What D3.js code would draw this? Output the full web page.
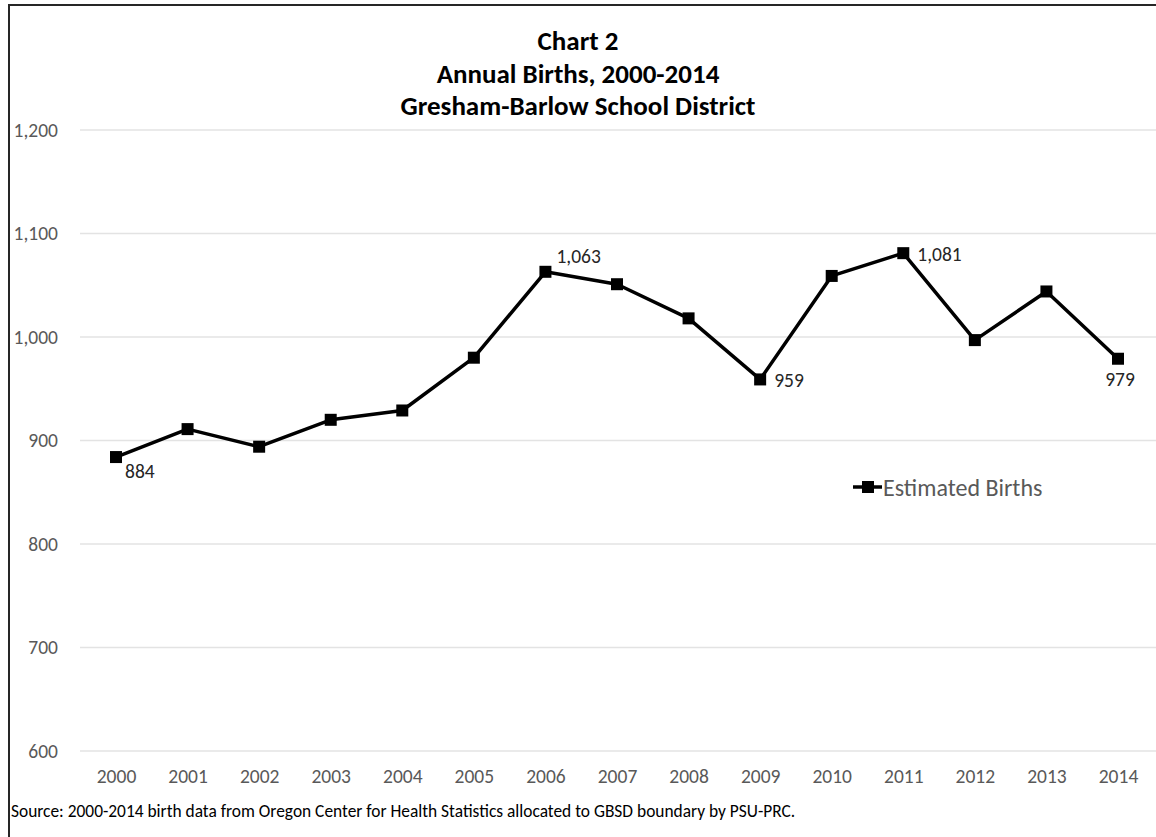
<!DOCTYPE html>
<html>
<head>
<meta charset="utf-8">
<script src="https://cdn.jsdelivr.net/npm/d3@7"></script>
<style>
  html, body { margin: 0; padding: 0; background: #fff; }
  svg { display: block; font-family: Carlito, Calibri, Lato, sans-serif; }
</style>
</head>
<body>
<div id="chart"></div>
<script>
// chart values
const years = ["2000", "2001", "2002", "2003", "2004", "2005", "2006", "2007",
               "2008", "2009", "2010", "2011", "2012", "2013", "2014"];
const births = [884, 911, 894, 920, 929, 980, 1063, 1051, 1018, 959, 1059, 1081, 997, 1044, 979];
const yTicks = [600, 700, 800, 900, 1000, 1100, 1200];
const titleLines = ["Chart 2", "Annual Births, 2000-2014", "Gresham-Barlow School District"];
const seriesName = "Estimated Births";
const sourceNote = "Source:  2000-2014 birth data from Oregon Center for Health Statistics allocated to GBSD boundary by PSU-PRC.";
// years that carry a value label, and where the label goes
const labelled = { "2000": "below-right", "2006": "above-right", "2009": "right", "2011": "right", "2014": "below" };

const W = 1156, H = 837;
const svg = d3.select("#chart").append("svg")
    .attr("width", W)
    .attr("height", H);

// Frame: only the top and left edges show in the picture
svg.append("path")
    .attr("d", `M9,${H} L9,5 L${W},5`)
    .attr("fill", "none")
    .attr("stroke", "#262626")
    .attr("stroke-width", 2);

const plotLeft = 80, plotRight = W;

const x = d3.scalePoint()
    .domain(years)
    .range([116, 1118]);

const y = d3.scaleLinear()
    .domain([600, 1200])
    .range([751, 130]);

// Gridlines
svg.append("g")
    .selectAll("line")
    .data(yTicks)
    .join("line")
    .attr("x1", plotLeft)
    .attr("x2", plotRight)
    .attr("y1", d => y(d))
    .attr("y2", d => y(d))
    .attr("stroke", "#e3e3e3")
    .attr("stroke-width", 1.5);

// Y axis labels (no axis line)
const yAxis = svg.append("g")
    .attr("transform", "translate(58,0)")
    .call(d3.axisLeft(y).tickValues(yTicks).tickFormat(d3.format(",")).tickSize(0).tickPadding(0));
yAxis.select(".domain").remove();
yAxis.selectAll("text")
    .attr("font-family", "Carlito, Calibri, Lato, sans-serif")
    .attr("font-size", "19.5px")
    .attr("fill", "#595959");

// X axis labels
const xAxis = svg.append("g")
    .attr("transform", "translate(0,769)")
    .call(d3.axisBottom(x).tickSize(0).tickPadding(0));
xAxis.select(".domain").remove();
xAxis.selectAll("text")
    .attr("font-family", "Carlito, Calibri, Lato, sans-serif")
    .attr("font-size", "19.5px")
    .attr("fill", "#595959");

// Title
svg.append("g")
    .selectAll("text")
    .data(titleLines)
    .join("text")
    .attr("x", 578)
    .attr("y", (d, i) => 50 + i * 32.5)
    .attr("text-anchor", "middle")
    .attr("font-weight", "bold")
    .attr("font-size", "27px")
    .attr("fill", "#000")
    .text(d => d);

// Series line
const line = d3.line()
    .x((d, i) => x(years[i]))
    .y(d => y(d));

svg.append("path")
    .datum(births)
    .attr("fill", "none")
    .attr("stroke", "#000")
    .attr("stroke-width", 3.5)
    .attr("stroke-linejoin", "round")
    .attr("d", line);

// Square markers
const m = 12;
svg.append("g")
    .selectAll("rect")
    .data(births)
    .join("rect")
    .attr("x", (d, i) => x(years[i]) - m / 2)
    .attr("y", d => y(d) - m / 2)
    .attr("width", m)
    .attr("height", m)
    .attr("fill", "#000");

// Value labels
const offsets = {
    "below-right": { dx: 9, dy: 14, anchor: "start" },
    "above-right": { dx: 11, dy: -16, anchor: "start" },
    "right": { dx: 14, dy: 1, anchor: "start" },
    "below": { dx: 2, dy: 20, anchor: "middle" }
};
svg.append("g")
    .selectAll("text")
    .data(years.filter(yr => labelled[yr]))
    .join("text")
    .attr("x", yr => x(yr) + offsets[labelled[yr]].dx)
    .attr("y", yr => y(births[years.indexOf(yr)]) + offsets[labelled[yr]].dy)
    .attr("dominant-baseline", "central")
    .attr("text-anchor", yr => offsets[labelled[yr]].anchor)
    .attr("font-size", "19.5px")
    .attr("fill", "#262626")
    .text(yr => d3.format(",")(births[years.indexOf(yr)]));

// Legend
const legend = svg.append("g")
    .attr("transform", "translate(853,487)");
legend.append("line")
    .attr("x1", 0)
    .attr("x2", 29)
    .attr("stroke", "#000")
    .attr("stroke-width", 3.5);
legend.append("rect")
    .attr("x", 15 - m / 2)
    .attr("y", -m / 2)
    .attr("width", m)
    .attr("height", m)
    .attr("fill", "#000");
legend.append("text")
    .attr("x", 30)
    .attr("y", 0)
    .attr("dominant-baseline", "central")
    .attr("font-size", "24px")
    .attr("fill", "#595959")
    .text(seriesName);

// Source note
svg.append("text")
    .attr("x", 11)
    .attr("y", 817)
    .attr("font-size", "17.4px")
    .attr("fill", "#000")
    .text(sourceNote);
</script>
</body>
</html>
